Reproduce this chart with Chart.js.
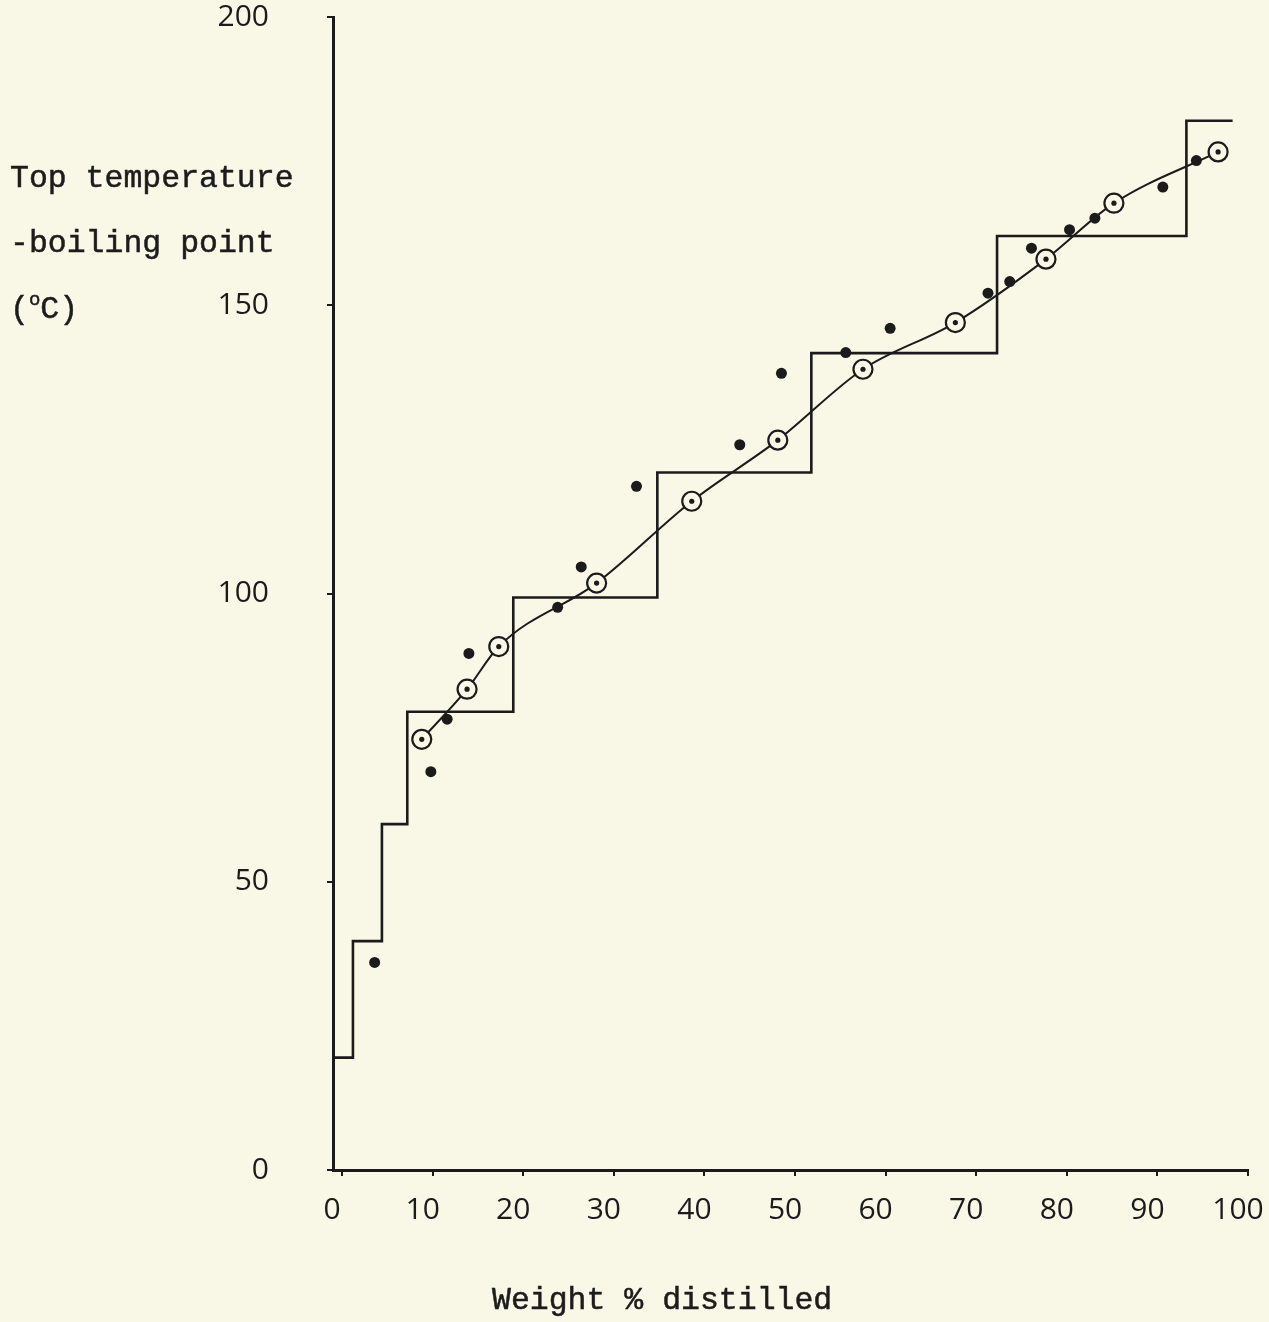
<!DOCTYPE html>
<html>
<head>
<meta charset="utf-8">
<title>Top temperature - boiling point vs weight % distilled</title>
<script src="https://cdn.jsdelivr.net/npm/chart.js@4.4.0/dist/chart.umd.min.js"></script>
<style>
    html, body { margin: 0; padding: 0; background: #f9f7e6; }
    #wrap { position: relative; width: 1269px; height: 1322px; overflow: hidden; }
    #chart { position: absolute; left: 0; top: 0; }
    .label {
        position: absolute;
        font-family: "Liberation Mono", "DejaVu Sans Mono", monospace;
        font-size: 31.5px;
        line-height: 1;
        color: #1c1c1c;
        white-space: pre;
        -webkit-text-stroke: 0.5px #1c1c1c;
    }
    .label sup { font-size: 19px; vertical-align: baseline; position: relative; top: -13px; }
</style>
</head>
<body>
<div id="wrap">
    <canvas id="chart" width="1269" height="1322"></canvas>
    <div class="label" style="left:10px; top:163px;">Top temperature</div>
    <div class="label" style="left:10px; top:228px;">-boiling point</div>
    <div class="label" style="left:10px; top:294px;">(<sup>o</sup>C)</div>
    <div class="label" style="left:492px; top:1285px;">Weight % distilled</div>
</div>
<script>
(function() {
    'use strict';

    // Axis ticks
    var xTicks = [0, 10, 20, 30, 40, 50, 60, 70, 80, 90, 100];
    var yTicks = [0, 50, 100, 150, 200];

    // Fraction cuts (stepped line): start of each cut and its top temperature
    var cutPct  = [-1, 1.2, 4.4, 7.2, 18.9, 34.8, 51.8, 72.3, 93.2, 98.3];
    var cutTemp = [19.5, 39.7, 60, 79.5, 99.3, 121, 141.7, 162, 182, 182];

    // Boiling points (open circles, joined by the smooth curve)
    var bpPct  = [8.8, 13.8, 17.3, 28.1, 38.6, 48.1, 57.5, 67.7, 77.7, 85.2, 96.7];
    var bpTemp = [74.7, 83.4, 90.8, 101.8, 116.0, 126.6, 138.9, 147.0, 158.0, 167.7, 176.6];

    // Top temperatures (filled dots)
    var topPct  = [3.6, 9.8, 11.6, 14.0, 23.8, 26.4, 32.5, 43.9, 48.5, 55.6, 60.5, 71.3, 73.7, 76.1, 80.3, 83.1, 90.6, 94.3];
    var topTemp = [36.0, 69.1, 78.2, 89.6, 97.6, 104.6, 118.6, 125.8, 138.2, 141.8, 146.0, 152.1, 154.1, 159.9, 163.1, 165.1, 170.5, 175.1];

    var INK = '#1b1b1b';
    var PAPER = '#f9f7e6';

    function pairs(xs, ys) {
        return xs.map(function(x, i) { return { x: x, y: ys[i] }; });
    }

    var tickFont = { family: 'Open Sans', size: 30 };

    var ctx = document.getElementById('chart').getContext('2d');
    new Chart(ctx, {
        type: 'scatter',
        data: {
            datasets: [{
                // small centre dot of each open circle
                label: 'centre',
                data: pairs(bpPct, bpTemp),
                showLine: false,
                pointRadius: 2.6,
                pointBorderWidth: 0,
                pointBackgroundColor: INK
            }, {
                label: 'Boiling point',
                data: pairs(bpPct, bpTemp),
                showLine: true,
                cubicInterpolationMode: 'monotone',
                borderColor: INK,
                borderWidth: 2,
                pointRadius: 9.5,
                pointBorderWidth: 2.2,
                pointBorderColor: INK,
                pointBackgroundColor: PAPER
            }, {
                label: 'Top temperature',
                data: pairs(topPct, topTemp),
                showLine: false,
                pointRadius: 5.5,
                pointBorderWidth: 0,
                pointBackgroundColor: INK
            }, {
                label: 'Cuts',
                data: pairs(cutPct, cutTemp),
                showLine: true,
                stepped: 'before',
                borderColor: INK,
                borderWidth: 2.6,
                pointRadius: 0
            }]
        },
        options: {
            responsive: false,
            animation: false,
            events: [],
            layout: { autoPadding: false, padding: { left: 218, right: 21, top: 17, bottom: 94 } },
            plugins: {
                legend: { display: false },
                tooltip: { enabled: false }
            },
            scales: {
                x: {
                    type: 'linear',
                    min: -1,
                    max: 100,
                    afterBuildTicks: function(scale) {
                        scale.ticks = xTicks.map(function(v) { return { value: v }; });
                    },
                    // fixed size, and no extra room for the end labels
                    afterFit: function(scale) {
                        scale.height = 58;
                        scale.paddingLeft = 0;
                        scale.paddingRight = 0;
                    },
                    grid: { drawOnChartArea: false, drawTicks: true, tickLength: 6, color: INK, lineWidth: 2 },
                    border: { color: INK, width: 3 },
                    ticks: { font: tickFont, color: INK, padding: 16, labelOffset: -10, maxRotation: 0 }
                },
                y: {
                    type: 'linear',
                    min: 0,
                    max: 200,
                    afterBuildTicks: function(scale) {
                        scale.ticks = yTicks.map(function(v) { return { value: v }; });
                    },
                    afterFit: function(scale) {
                        scale.width = 115;
                        scale.paddingTop = 0;
                        scale.paddingBottom = 0;
                    },
                    grid: { drawOnChartArea: false, drawTicks: true, tickLength: 6, color: INK, lineWidth: 2 },
                    border: { color: INK, width: 3 },
                    ticks: { font: tickFont, color: INK, padding: 58 }
                }
            }
        }
    });
})();
</script>
</body>
</html>
